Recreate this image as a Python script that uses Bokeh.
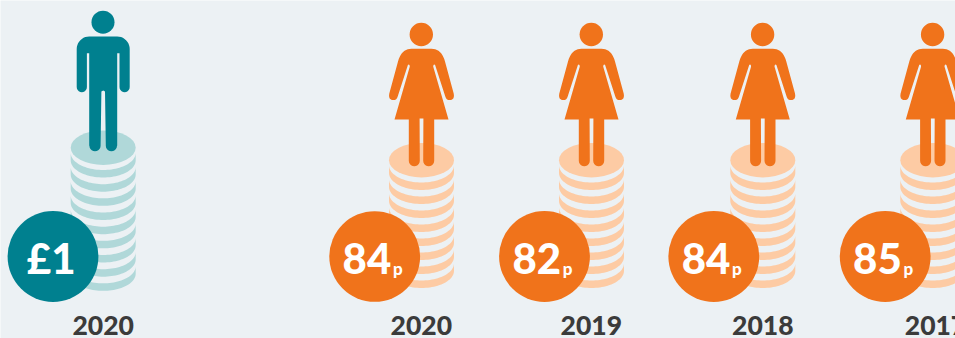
import math

from bokeh.core.properties import value
from bokeh.embed import file_html
from bokeh.models import ColumnDataSource, Range1d
from bokeh.plotting import figure
from bokeh.resources import INLINE

# Pay for every £1 earned by men, against women's pay by year
groups = ["men", "women", "women", "women", "women"]
years = ["2020", "2020", "2019", "2018", "2017"]
pay_numbers = ["£1", "84", "82", "84", "85"]
pay_units = ["", "p", "p", "p", "p"]
stripe_counts = [9, 8, 8, 8, 8]

# Horizontal layout of each column (pixels)
figure_x = [102.7, 421.0, 591.0, 762.3, 932.3]
badge_x = [52.5, 374.2, 544.0, 713.3, 884.7]
year_x = [102.7, 420.8, 590.8, 762.3, 935.0]

PALETTE = {
    "men": {"solid": "#00808F", "pale": "#B0D8D9"},
    "women": {"solid": "#F0731B", "pale": "#FDCBA4"},
}
BACKGROUND = "#ECF1F4"
INK = "#3B3B3B"
FONT = "Lato Black"

WIDTH, HEIGHT = 955, 338
COIN_RX = 32.5
COIN_RY = 17.2
STRIPE_THICK = 7.5
STRIPE_STEP = {"men": 14.17, "women": 14.0}
DISC_Y = {"men": 147.2, "women": 159.7}
HEAD_Y = {"men": 21.7, "women": 34.0}
HEAD_R = {"men": 11.5, "women": 11.7}


def arc(cx, cy, r, start, stop, n=10):
    """Points along a circular arc; angles in degrees, y pointing down."""
    pts = []
    for i in range(n + 1):
        a = math.radians(start + (stop - start) * i / n)
        pts.append((cx + r * math.cos(a), cy + r * math.sin(a)))
    return pts


def curve(p0, p1, p2, n=10):
    """Quadratic Bezier through a control point."""
    pts = []
    for i in range(n + 1):
        t = i / n
        pts.append((
            (1 - t) ** 2 * p0[0] + 2 * t * (1 - t) * p1[0] + t ** 2 * p2[0],
            (1 - t) ** 2 * p0[1] + 2 * t * (1 - t) * p1[1] + t ** 2 * p2[1],
        ))
    return pts


def man_half():
    pts = [(0, 36.0), (14.0, 36.0)]
    pts += arc(14.0, 48.5, 12.5, -90, 0)
    pts += [(26.5, 86.6)]
    pts += arc(21.4, 86.6, 5.1, 0, 180)
    pts += [(16.3, 52.7), (14.0, 52.7)]
    pts += [(14.0, 145.2)]
    pts += arc(8.2, 145.2, 5.6, 0, 180)
    pts += [(1.8, 91.0), (0, 90.0)]
    return pts


def woman_half():
    pts = [(0, 48.3), (10.0, 48.3)]
    pts += curve((10.0, 48.3), (20.0, 48.3), (23.5, 61.0))
    pts += [(32.2, 93.0)]
    pts += curve((32.2, 93.0), (33.5, 99.5), (28.0, 99.6), 6)
    pts += curve((28.0, 99.6), (24.8, 99.5), (23.8, 96.0), 6)
    pts += [(13.6, 64.6), (12.8, 64.0), (12.0, 64.6), (11.7, 66.0)]
    pts += [(27.0, 119.0), (12.7, 119.0), (12.7, 160.2)]
    pts += arc(7.2, 160.2, 5.5, 0, 180)
    pts += [(1.9, 118.0), (0, 118.0)]
    return pts


def mirrored(half, cx):
    right = [(cx + dx, y) for dx, y in half]
    left = [(cx - dx, y) for dx, y in reversed(half)]
    pts = right + left
    return [q[0] for q in pts], [q[1] for q in pts]


def coin_stripe(cx, arc_y, n=48):
    """Crescent showing the lower rim of a coin, its top edge centred on arc_y."""
    upper, lower = [], []
    for i in range(n + 1):
        a = math.pi * i / n
        x = cx + COIN_RX * math.cos(a)
        y = COIN_RY * math.sin(a)
        upper.append((x, arc_y + y))
        lower.append((x, arc_y + STRIPE_THICK + y))
    pts = upper + lower[::-1]
    return [q[0] for q in pts], [q[1] for q in pts]


p = figure(
    width=WIDTH,
    height=HEIGHT,
    x_range=Range1d(0, WIDTH),
    y_range=Range1d(HEIGHT, 0),
    output_backend="svg",
    toolbar_location=None,
    background_fill_color=BACKGROUND,
    border_fill_color=BACKGROUND,
    min_border=0,
    outline_line_color=None,
)
p.axis.visible = False
p.grid.visible = False

silhouette = {"men": man_half(), "women": woman_half()}

for i, group in enumerate(groups):
    colours = PALETTE[group]
    cx = figure_x[i]
    disc_y = DISC_Y[group]

    # Coin stack: one crescent per coin below the top disc
    xs, ys = [], []
    for k in range(stripe_counts[i]):
        arc_y = disc_y + 5.1 + k * STRIPE_STEP[group]
        sx, sy = coin_stripe(cx, arc_y)
        xs.append(sx)
        ys.append(sy)
    p.patches(xs, ys, fill_color=colours["pale"], line_color=None)
    p.ellipse([cx], [disc_y], width=2 * COIN_RX, height=2 * COIN_RY,
              fill_color=colours["pale"], line_color=None)

    # Person standing on the stack
    bx, by = mirrored(silhouette[group], cx)
    p.patch(bx, by, fill_color=colours["solid"], line_color=None)
    p.circle([cx - 0.2], [HEAD_Y[group]], radius=HEAD_R[group],
             fill_color=colours["solid"], line_color=None)

    # Round badge carrying the pay figure
    p.circle([badge_x[i]], [256.0], radius=45.4,
             fill_color=colours["solid"], line_color=None)

# Pay figures inside the badges
big = ColumnDataSource(dict(
    x=[bx + (-1.8 if not unit else 16.6) for bx, unit in zip(badge_x, pay_units)],
    y=[257.5] * len(badge_x),
    text=pay_numbers,
    align=["center" if not unit else "right" for unit in pay_units],
))
p.text("x", "y", text="text", source=big, text_align="align",
       text_baseline="middle", text_color="#FFFFFF",
       text_font=value(FONT), text_font_size="42px")

small = ColumnDataSource(dict(
    x=[bx + 18.2 for bx in badge_x],
    y=[267.5] * len(badge_x),
    text=pay_units,
))
p.text("x", "y", text="text", source=small, text_align="left",
       text_baseline="middle", text_color="#FFFFFF",
       text_font=value(FONT), text_font_size="17px")

# Year captions
captions = ColumnDataSource(dict(x=year_x, y=[324.5] * len(year_x), text=years))
p.text("x", "y", text="text", source=captions, text_align="center",
       text_baseline="middle", text_color=INK, text_line_height=0.8,
       text_font=value(FONT), text_font_size="26.5px")

open("out.html", "w").write(file_html(p, INLINE))
